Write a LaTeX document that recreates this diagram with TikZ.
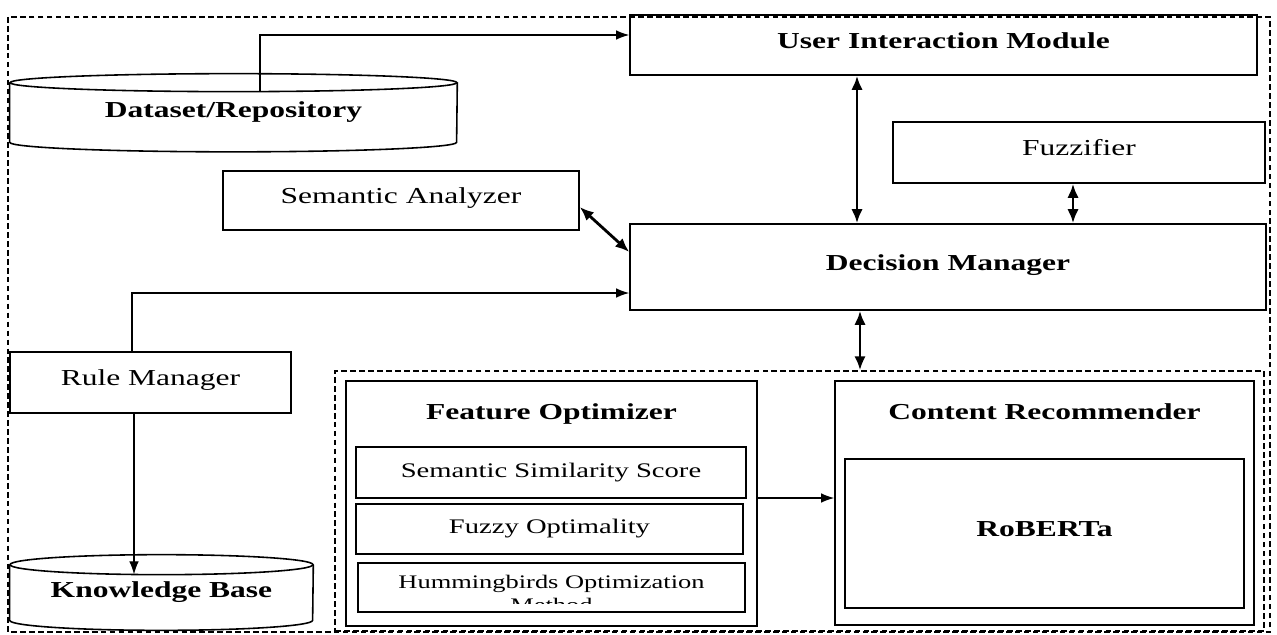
\documentclass[tikz,border=0pt]{standalone}
\usepackage{fontspec}
\setmainfont{Liberation Serif}[FakeStretch=1.38]
\usepackage{tikz}
\usetikzlibrary{arrows.meta,positioning,calc}

\newcommand\txtfont{\fontsize{13}{15}\selectfont}
\newcommand\subfont{\fontsize{11.8}{14}\selectfont}
\newcommand\homfont{\fontsize{10.9}{13}\selectfont}

\tikzset{
  box/.style={draw, line width=0.9pt, inner sep=0pt, text depth=0.55em, font=\txtfont},
  subbox/.style={box, font=\subfont, text depth=0.3em},
  titletext/.style={font=\txtfont\bfseries, inner sep=2pt},
  dbnode/.style={inner sep=0pt, font=\txtfont\bfseries},
  conn/.style={line width=0.8pt, -{Latex[length=7.5pt,width=5.5pt]}},
  biconn/.style={line width=1.6pt, {Latex[length=8pt,width=6.5pt]}-{Latex[length=8pt,width=6.5pt]}},
  frame/.style={dash pattern=on 3.2pt off 1.9pt, line width=0.8pt}
}

\begin{document}
\begin{tikzpicture}[x=0.02cm, y=-0.02cm]
\useasboundingbox (0,0) rectangle (1277,635);
% whole system
\draw[frame] (8,17) rectangle (1270,632);

% upper part
\node[box, font=\txtfont\bfseries, minimum width=12.54cm, minimum height=1.2cm] (uim) at (943.5,45) {User Interaction Module};
\node[box, minimum width=7.44cm, minimum height=1.22cm] (fuzz) at (1079,152.5) {Fuzzifier};
\node[box, font=\txtfont\bfseries, minimum width=12.72cm, minimum height=1.72cm] (dm) at (948,267) {Decision Manager};
\node[box, minimum width=7.12cm, minimum height=1.18cm] (sa) at (401,200.5) {Semantic Analyzer};
\node[box, minimum width=5.62cm, minimum height=1.22cm] (rm) at (150.5,382.5) {Rule Manager};

% data stores
\node[dbnode, minimum width=8.94cm, minimum height=1.18cm] (ds) at (233.5,112.5) {Dataset/Repository};
\draw[line width=0.9pt] (ds.north) ellipse [x radius=4.47cm, y radius=0.18cm];
\draw[line width=0.9pt] (ds.north west) -- (ds.south west) arc[start angle=180, end angle=360, x radius=4.47cm, y radius=0.19cm] -- (ds.north east);
\coordinate (dstop) at ($(ds.north)+(26.5,9)$);

\node[dbnode, minimum width=6.06cm, minimum height=1.1cm] (kb) at (161.5,592.5) {Knowledge Base};
\draw[line width=0.9pt] (kb.north) ellipse [x radius=3.03cm, y radius=0.2cm];
\draw[line width=0.9pt] (kb.north west) -- (kb.south west) arc[start angle=180, end angle=360, x radius=3.03cm, y radius=0.2cm] -- (kb.north east);
\coordinate (kbtop) at ($(kb.north)+(-27.5,9.8)$);

% lower part
\node[draw, frame, minimum width=18.58cm, minimum height=5.2cm] (core) at (799.5,501) {};
\node[box, minimum width=8.22cm, minimum height=4.9cm] (fo) at (551.5,503.5) {};
\node[titletext, below=0.4cm of fo.north] (fotitle) {Feature Optimizer};
\node[subbox, minimum width=7.8cm, minimum height=1.02cm] (sss) at (551,472.5) {Semantic Similarity Score};
\node[subbox, minimum width=7.74cm, minimum height=1.0cm] (fopt) at (549.5,529) {Fuzzy Optimality};
\node[subbox, minimum width=7.74cm, minimum height=0.98cm] (hom) at (551.5,587.5) {};
\begin{scope}
\clip ([shift={(0,2)}]hom.north west) rectangle ([shift={(0,-9)}]hom.south east);
\node[font=\homfont, align=center, inner sep=0pt, anchor=north] (homtext) at (551.5,575) {Hummingbirds Optimization\\Method};
\end{scope}

\node[box, minimum width=8.38cm, minimum height=4.88cm] (cr) at (1044.5,503) {};
\node[titletext, below=0.4cm of cr.north] (crtitle) {Content Recommender};
\node[box, font=\txtfont\bfseries, minimum width=7.98cm, minimum height=2.98cm] (rob) at (1044.5,533.5) {RoBERTa};

% connectors
\draw[conn] (dstop) |- (uim.west |- 0,35);
\draw[biconn] (uim.south -| 857,0) -- (dm.north -| 857,0);
\draw[biconn] (fuzz.south -| 1073,0) -- (dm.north -| 1073,0);
\draw[biconn] ([yshift=-0.13cm]sa.east) -- ([yshift=0.3cm]dm.west);
\draw[conn] (rm.north -| 132,0) |- (dm.west |- 0,293);
\draw[conn] (rm.south -| 134,0) -- (kbtop);
\draw[biconn] (dm.south -| 860,0) -- (core.north -| 860,0);
\draw[conn] (fo.east |- 0,498) -- (cr.west |- 0,498);
\end{tikzpicture}
\end{document}
